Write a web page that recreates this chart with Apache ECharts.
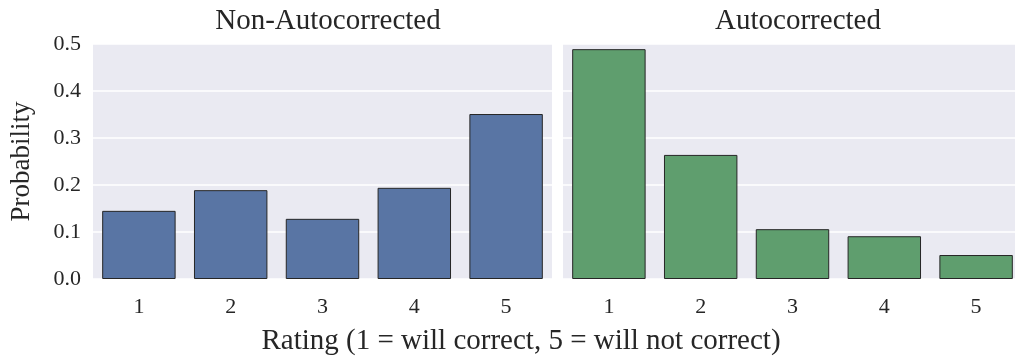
<!DOCTYPE html>
<html><head><meta charset="utf-8">
<script src="https://cdn.jsdelivr.net/npm/echarts@6/dist/echarts.min.js"></script>
<style>html,body{margin:0;padding:0;background:#fff}#c{width:1015px;height:358px}</style>
</head><body><div id="c"></div>
<script>
const categories = ['1','2','3','4','5'];
const nonAutocorrected = [0.145, 0.189, 0.128, 0.194, 0.351];
const autocorrected = [0.489, 0.264, 0.106, 0.091, 0.051];
const yTicks = [0, 0.1, 0.2, 0.3, 0.4, 0.5];
const panelTitles = ['Non-Autocorrected', 'Autocorrected'];
const xLabel = 'Rating (1 = will correct, 5 = will not correct)';
const yLabel = 'Probability';

const FONT = 'Liberation Serif';
const chart = echarts.init(document.getElementById('c'), null, {renderer:'canvas'});
const xAxisCommon = {
  type:'category', data:categories,
  axisLine:{show:false}, axisTick:{show:false},
  axisLabel:{fontFamily:FONT, fontSize:22, color:'#262626', margin:17},
  splitLine:{show:false}
};
const yAxisCommon = {
  type:'value', min:0, max:0.5, interval:0.1,
  axisLine:{show:false}, axisTick:{show:false},
  splitLine:{show:true, lineStyle:{color:'#ffffff', width:1.5}},
  splitArea:{show:false}
};
chart.setOption({
  animation:false,
  backgroundColor:'#ffffff',
  title:[
    {text:panelTitles[0], left:323, top:2, textAlign:'center', textStyle:{fontFamily:FONT, fontSize:29, fontWeight:'normal', color:'#262626'}},
    {text:panelTitles[1], left:793, top:2, textAlign:'center', textStyle:{fontFamily:FONT, fontSize:29, fontWeight:'normal', color:'#262626'}},
    {text:xLabel, left:516, top:322, textAlign:'center', textStyle:{fontFamily:FONT, fontSize:29, fontWeight:'normal', color:'#262626'}}
  ],
  grid:[
    {left:93, top:44, width:459, height:235, show:true, backgroundColor:'#EAEAF2', borderWidth:0, outerBoundsMode:'none', containLabel:false},
    {left:563, top:44, width:459, height:235, show:true, backgroundColor:'#EAEAF2', borderWidth:0, outerBoundsMode:'none', containLabel:false}
  ],
  xAxis:[
    Object.assign({gridIndex:0}, xAxisCommon),
    Object.assign({gridIndex:1}, xAxisCommon)
  ],
  yAxis:[
    Object.assign({gridIndex:0, name:yLabel, nameLocation:'middle', nameGap:58, nameRotate:90,
      nameTextStyle:{fontFamily:FONT, fontSize:27, color:'#262626'},
      axisLabel:{fontFamily:FONT, fontSize:22, color:'#262626', margin:12, formatter:v=>v.toFixed(1)}}, yAxisCommon),
    Object.assign({gridIndex:1, axisLabel:{show:false}}, yAxisCommon)
  ],
  series:[
    {type:'bar', xAxisIndex:0, yAxisIndex:0, data:nonAutocorrected, barCategoryGap:'20%',
      itemStyle:{color:'#5975A4', borderColor:'#262626', borderWidth:1}},
    {type:'bar', xAxisIndex:1, yAxisIndex:1, data:autocorrected, barCategoryGap:'20%',
      itemStyle:{color:'#5F9E6E', borderColor:'#262626', borderWidth:1}}
  ]
});
</script></body></html>
